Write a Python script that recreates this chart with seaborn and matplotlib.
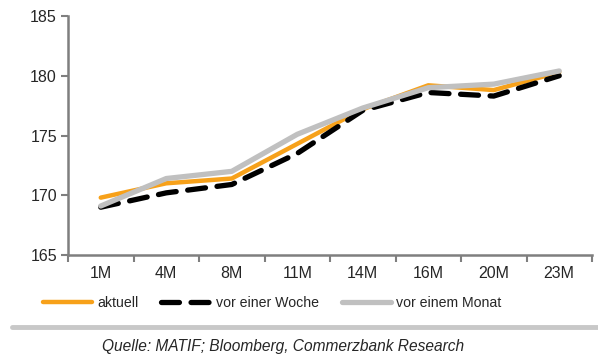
import matplotlib.pyplot as plt
import matplotlib.lines as mlines
import seaborn as sns
import numpy as np
import pandas as pd

# Laufzeiten und Kurven
laufzeiten = ['1M', '4M', '8M', '11M', '14M', '16M', '20M', '23M']
aktuell = [169.8, 171.0, 171.4, 174.3, 177.2, 179.2, 178.8, 180.3]
vor_einer_woche = [169.0, 170.2, 170.9, 173.5, 177.1, 178.6, 178.3, 180.0]
vor_einem_monat = [169.1, 171.4, 172.0, 175.1, 177.3, 179.0, 179.3, 180.4]

sns.set_style('white')
plt.rcParams['font.family'] = ['Liberation Sans', 'DejaVu Sans']

df = pd.DataFrame({
    'x': np.arange(len(laufzeiten)),
    'aktuell': aktuell,
    'vor einer Woche': vor_einer_woche,
    'vor einem Monat': vor_einem_monat,
})

fig = plt.figure(figsize=(5.98, 3.58), dpi=100)
ax = fig.add_axes([68 / 598, 1 - 255 / 358, 524 / 598, 239 / 358])

sns.lineplot(data=df, x='x', y='aktuell', ax=ax, color='#f7a11a', lw=3.2,
             label='aktuell', zorder=2)
sns.lineplot(data=df, x='x', y='vor einer Woche', ax=ax, color='black', lw=3.8,
             label='vor einer Woche', zorder=3)
ax.lines[-1].set_dashes([3.4, 2.2])
ax.lines[-1].set_dash_capstyle('round')
sns.lineplot(data=df, x='x', y='vor einem Monat', ax=ax, color='#c0c0c0', lw=3.8,
             label='vor einem Monat', zorder=4)

ax.set_xlim(-0.5, len(laufzeiten) - 0.5)
ax.set_ylim(165, 185)
ax.set_yticks([165, 170, 175, 180, 185])
ax.set_xticks(np.arange(len(laufzeiten) + 1) - 0.5)
ax.set_xticklabels([])
ax.set_xticks(np.arange(len(laufzeiten)), minor=True)
ax.set_xticklabels(laufzeiten, minor=True)
ax.set_xlabel('')
ax.set_ylabel('')

for s in ['top', 'right']:
    ax.spines[s].set_visible(False)
for s in ['left', 'bottom']:
    ax.spines[s].set_color('#7f7f7f')
    ax.spines[s].set_linewidth(1.8)

ax.tick_params(axis='y', which='major', direction='out', length=5, width=1.5,
               color='#7f7f7f', labelsize=11.5, left=True, pad=3)
ax.tick_params(axis='x', which='major', direction='out', length=5, width=1.5,
               color='#7f7f7f', bottom=True)
ax.tick_params(axis='x', which='minor', length=0, labelsize=11.5, pad=8)

ax.get_legend().remove()
handles, labels = ax.get_legend_handles_labels()
fig.legend(handles, labels, loc='center', bbox_to_anchor=(0.455, 1 - 303 / 358),
           ncol=3, frameon=False, fontsize=10.2, handlelength=3.5,
           columnspacing=1.6, handletextpad=0.35)

fig.add_artist(mlines.Line2D([12 / 598, 1.0], [1 - 327 / 358] * 2, color='#c8c8c8',
                             lw=3.5, transform=fig.transFigure))
fig.text(0.474, 1 - 346 / 358, 'Quelle: MATIF; Bloomberg, Commerzbank Research',
         ha='center', va='center', fontsize=11.2, style='italic')

fig.savefig('out.png', dpi=100)
